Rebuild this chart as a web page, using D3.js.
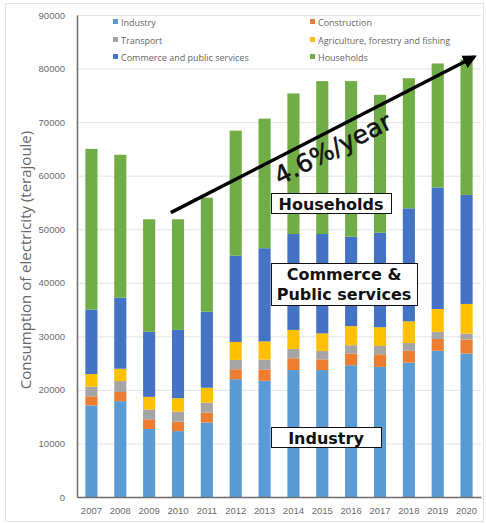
<!DOCTYPE html>
<html>
<head>
<meta charset="utf-8">
<script src="https://cdn.jsdelivr.net/npm/d3@7"></script>
<style>
  html, body { margin: 0; padding: 0; background: #fff; }
  svg { display: block; font-family: "Open Sans", "Liberation Sans", sans-serif; }
</style>
</head>
<body>
<svg id="chart" width="486" height="524"></svg>
<script>
// --- Data (terajoule) ---

const years = ["2007", "2008", "2009", "2010", "2011", "2012", "2013",
               "2014", "2015", "2016", "2017", "2018", "2019", "2020"];

const industry     = [17100, 17900, 12700, 12300, 13900, 22000, 21700, 23700, 23700, 24600, 24300, 25100, 27300, 26800];
const construction = [1700, 1700, 1800, 1750, 1850, 1850, 2100, 2200, 2000, 2200, 2350, 2200, 2200, 2600];
const transport    = [1800, 2050, 1850, 1900, 1850, 1750, 1850, 1750, 1550, 1550, 1550, 1450, 1350, 1100];
const agriculture  = [2350, 2300, 2350, 2500, 2800, 3350, 3400, 3550, 3300, 3550, 3500, 4050, 4250, 5550];
const commerce     = [12050, 13250, 12150, 12750, 14200, 16100, 17400, 17900, 18550, 16700, 17650, 21100, 22700, 20350];
const households   = [30000, 26700, 21000, 20650, 21300, 23350, 24200, 26250, 28550, 29050, 25750, 24300, 23150, 25300];

const seriesNames = ["Industry", "Construction", "Transport",
                     "Agriculture, forestry and fishing", "Commerce and public services", "Households"];
const seriesColors = ["#5B9BD5", "#ED7D31", "#A5A5A5", "#FFC000", "#4472C4", "#70AD47"];
const yTicks = [0, 10000, 20000, 30000, 40000, 50000, 60000, 70000, 80000, 90000];

// --- Setup ---

const svg = d3.select("#chart");
const margin = { top: 15, right: 5, bottom: 27, left: 77 };
const width = 486, height = 524;

const x = d3.scaleBand()
  .domain(years)
  .range([margin.left, width - margin.right])
  .paddingInner(0.58)
  .paddingOuter(0.29);

const y = d3.scaleLinear()
  .domain([0, 90000])
  .range([height - margin.bottom, margin.top]);

// year as a continuous value, for the trend arrow
const yearX = (yr) => x(String(Math.floor(yr))) + x.bandwidth() / 2 + (yr - Math.floor(yr)) * x.step();

// outer frame
svg.append("rect")
  .attr("x", 5.5).attr("y", 3.5)
  .attr("width", 478).attr("height", 518)
  .attr("fill", "none").attr("stroke", "#e2e2e2");

// --- Grid ---

svg.append("g")
  .selectAll("line")
  .data(yTicks.slice(1))
  .join("line")
  .attr("x1", margin.left).attr("x2", width - margin.right)
  .attr("y1", (d) => y(d) + 0.5).attr("y2", (d) => y(d) + 0.5)
  .attr("stroke", "#e4e4e4");

// --- Bars ---

const table = years.map((yr, i) => ({
  year: yr,
  s0: industry[i], s1: construction[i], s2: transport[i],
  s3: agriculture[i], s4: commerce[i], s5: households[i],
}));
const stacked = d3.stack().keys(["s0", "s1", "s2", "s3", "s4", "s5"])(table);

svg.append("g")
  .selectAll("g")
  .data(stacked)
  .join("g")
  .attr("fill", (d, i) => seriesColors[i])
  .selectAll("rect")
  .data((d) => d)
  .join("rect")
  .attr("x", (d) => x(d.data.year))
  .attr("width", x.bandwidth())
  .attr("y", (d) => y(d[1]))
  .attr("height", (d) => y(d[0]) - y(d[1]));

// --- Axes ---

const yAxis = svg.append("g")
  .attr("transform", `translate(${margin.left},0)`)
  .call(d3.axisLeft(y).tickValues(yTicks).tickSize(0).tickPadding(12).tickFormat(d3.format("d")));
yAxis.select(".domain").attr("stroke", "#6e6e6e").attr("stroke-width", 1.5);
yAxis.selectAll("text").attr("fill", "#6b6b6b").attr("font-size", 9.5);

const xAxis = svg.append("g")
  .attr("transform", `translate(0,${height - margin.bottom})`)
  .call(d3.axisBottom(x).tickSize(0).tickPadding(10).tickSizeOuter(0));
xAxis.select(".domain").attr("stroke", "#6e6e6e").attr("stroke-width", 1.5);
xAxis.selectAll("text").attr("fill", "#6b6b6b").attr("font-size", 9.5);

svg.append("text")
  .attr("transform", "translate(31,260) rotate(-90)")
  .attr("text-anchor", "middle")
  .attr("fill", "#666")
  .attr("font-size", 15)
  .text("Consumption of electricity (terajoule)");

// --- Legend ---

const legendPos = [[113, 23], [310, 23], [113, 41], [310, 41], [113, 58], [310, 58]];
const legend = svg.append("g")
  .selectAll("g")
  .data(seriesNames)
  .join("g")
  .attr("transform", (d, i) => `translate(${legendPos[i][0]},${legendPos[i][1]})`);
legend.append("rect")
  .attr("x", 0).attr("y", -4).attr("width", 5).attr("height", 5)
  .attr("fill", (d, i) => seriesColors[i]);
legend.append("text")
  .attr("x", 8).attr("y", 0).attr("dy", "0.3em")
  .attr("font-size", 9).attr("fill", "#666")
  .text((d) => d);

// --- Trend arrow ---

svg.append("defs").append("marker")
  .attr("id", "arrowhead")
  .attr("viewBox", "0 -5 10 10")
  .attr("refX", 8).attr("refY", 0)
  .attr("markerWidth", 4).attr("markerHeight", 4)
  .attr("orient", "auto")
  .append("path")
  .attr("d", "M0,-5L10,0L0,5Z")
  .attr("fill", "#000");

const arrowFrom = [2009.75, 53100];
const arrowTo = [2020.27, 82200];
svg.append("line")
  .attr("x1", yearX(arrowFrom[0])).attr("y1", y(arrowFrom[1]))
  .attr("x2", yearX(arrowTo[0])).attr("y2", y(arrowTo[1]))
  .attr("stroke", "#000").attr("stroke-width", 3.5)
  .attr("marker-end", "url(#arrowhead)");

svg.append("text")
  .attr("transform", `translate(${yearX(2015.5)},${y(63600)}) rotate(-27)`)
  .attr("text-anchor", "middle")
  .attr("font-size", 25)
  .attr("font-family", "DejaVu Sans, sans-serif")
  .attr("fill", "#111")
  .attr("stroke", "#111").attr("stroke-width", 0.5)
  .text("4.6%/year");

// --- Label boxes ---

const boxes = [
  { lines: ["Households"], cx: 331, top: 193, w: 120, h: 20 },
  { lines: ["Commerce &", "Public services"], cx: 344, top: 263, w: 146, h: 42 },
  { lines: ["Industry"], cx: 326, top: 427, w: 110, h: 20 },
];
const box = svg.append("g").selectAll("g").data(boxes).join("g");
box.append("rect")
  .attr("x", (d) => d.cx - d.w / 2 + 0.5).attr("y", (d) => d.top + 0.5)
  .attr("width", (d) => d.w).attr("height", (d) => d.h)
  .attr("fill", "#fff").attr("stroke", "#111");
box.selectAll("text")
  .data((d) => d.lines.map((t, i) => ({ t, i, d })))
  .join("text")
  .attr("x", (e) => e.d.cx)
  .attr("y", (e) => e.d.top + 16.5 + e.i * 20)
  .attr("text-anchor", "middle")
  .attr("font-size", 16).attr("font-weight", "bold")
  .attr("font-family", "DejaVu Sans, sans-serif")
  .attr("fill", "#111")
  .text((e) => e.t);
</script>
</body>
</html>
